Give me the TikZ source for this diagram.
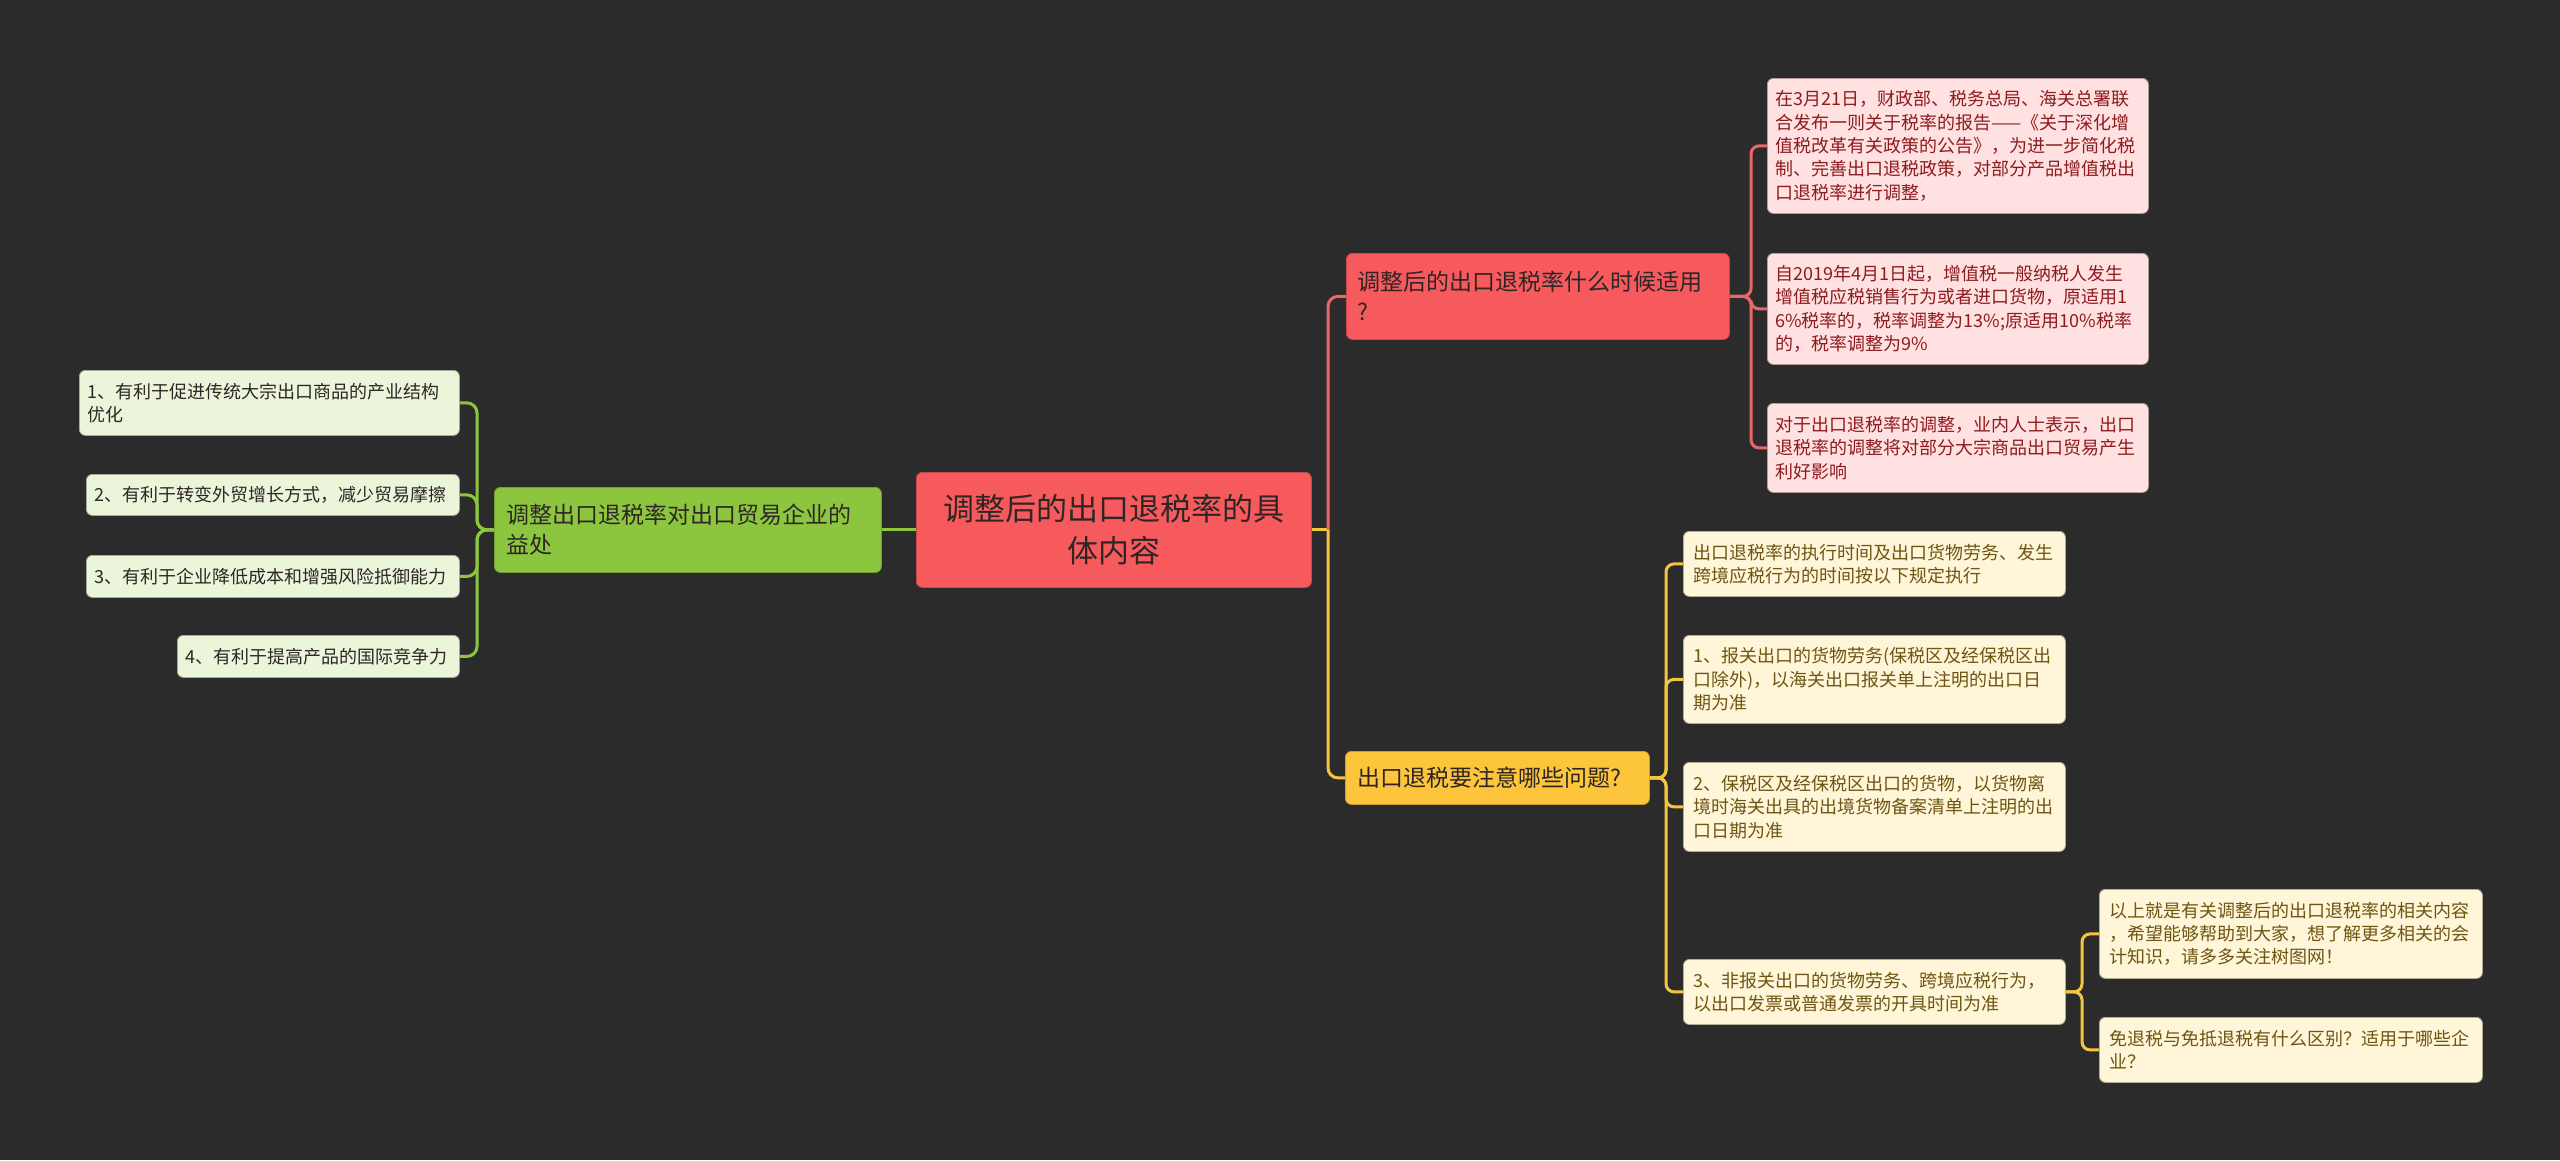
\documentclass[tikz,border=0pt]{standalone}
\usepackage{fontspec}
\setmainfont{Noto Sans CJK SC}
\definecolor{bg}{HTML}{2B2B2B}
\definecolor{redfill}{HTML}{F75A5D}
\definecolor{redline}{HTML}{E8686A}
\definecolor{pinkfill}{HTML}{FFE1E2}
\definecolor{pinktext}{HTML}{8E1B1D}
\definecolor{greenfill}{HTML}{8CC63E}
\definecolor{greenline}{HTML}{8CC63E}
\definecolor{palegreen}{HTML}{EAF5DA}
\definecolor{yellowfill}{HTML}{FCC53C}
\definecolor{yellowline}{HTML}{F4C63F}
\definecolor{paleyellow}{HTML}{FFF5D8}
\definecolor{yeltext}{HTML}{6E5512}
\definecolor{darktext}{HTML}{2E2626}
\tikzset{
  box/.style={rounded corners=6pt, inner ysep=0pt, anchor=north west, align=left},
  rootbox/.style={box, fill=redfill, draw=redfill!80!black, line width=0.8pt, text=darktext, align=center, inner xsep=10pt,
    font={\fontsize{31}{42}\selectfont}},
  mainbox/.style={box, line width=0.8pt, text=darktext, inner xsep=12pt, font={\fontsize{23}{30}\selectfont}},
  redbox/.style={mainbox, fill=redfill, draw=redfill!80!black},
  greenbox/.style={mainbox, fill=greenfill, draw=greenfill!80!black},
  yellowbox/.style={mainbox, fill=yellowfill, draw=yellowfill!80!black},
  leaf/.style={box, line width=0.8pt, inner xsep=8pt, font={\fontsize{18}{23.3}\selectfont}},
  pinkleaf/.style={leaf, fill=pinkfill, draw=pinkfill!70!black, text=pinktext},
  greenleaf/.style={leaf, fill=palegreen, draw=palegreen!70!black, text=darktext},
  yellowleaf/.style={leaf, fill=paleyellow, draw=paleyellow!70!black, text=yeltext, inner xsep=10pt},
  conn/.style={line width=3pt, rounded corners=10pt},
  rl/.style={conn, draw=redline},
  gl/.style={conn, draw=greenline},
  yl/.style={conn, draw=yellowline},
}
\begin{document}
\begin{tikzpicture}[x=1pt, y=-1pt]
\useasboundingbox (0,0) rectangle (2560,1160);
\fill[bg] (0,0) rectangle (2560,1160);

% spine coordinates
\coordinate (rsp) at (1328,0);
\coordinate (gsp) at (477,0);
\coordinate (rcs) at (1751,0);
\coordinate (ycs) at (1666,0);
\coordinate (ggs) at (2082,0);

% root
\node[rootbox, minimum height=115pt, text width=375pt] (root) at (916,472) {调整后的出口退税率的具\\体内容};

% green branch
\node[greenbox, minimum height=85pt, text width=363pt] (green) at (494,487) {调整出口退税率对出口贸易企业的\\益处};
\node[greenleaf, minimum height=65pt, text width=364pt] (gc1) at (79,370) {1、有利于促进传统大宗出口商品的产业结构\\优化};
\node[greenleaf, minimum height=41pt, text width=357pt] (gc2) at (86,474) {2、有利于转变外贸增长方式，减少贸易摩擦};
\node[greenleaf, minimum height=42pt, text width=357pt] (gc3) at (86,555) {3、有利于企业降低成本和增强风险抵御能力};
\node[greenleaf, minimum height=42pt, text width=266pt] (gc4) at (177,635) {4、有利于提高产品的国际竞争力};

% red branch
\node[redbox, minimum height=86pt, text width=361pt, inner xsep=11pt] (red) at (1346,253) {调整后的出口退税率什么时候适用\\?};
\node[pinkleaf, minimum height=135pt, text width=365pt] (rc1) at (1767,78) {在3月21日，财政部、税务总局、海关总署联\\合发布一则关于税率的报告——《关于深化增\\值税改革有关政策的公告》，为进一步简化税\\制、完善出口退税政策，对部分产品增值税出\\口退税率进行调整，};
\node[pinkleaf, minimum height=111pt, text width=365pt] (rc2) at (1767,253) {自2019年4月1日起，增值税一般纳税人发生\\增值税应税销售行为或者进口货物，原适用1\\6\%税率的，税率调整为13\%;原适用10\%税率\\的，税率调整为9\%};
\node[pinkleaf, minimum height=89pt, text width=365pt] (rc3) at (1767,403) {对于出口退税率的调整，业内人士表示，出口\\退税率的调整将对部分大宗商品出口贸易产生\\利好影响};

% yellow branch
\node[yellowbox, minimum height=53pt, text width=280pt] (yellow) at (1345,751) {出口退税要注意哪些问题?};
\node[yellowleaf, minimum height=65pt, text width=362pt] (yc1) at (1683,531) {出口退税率的执行时间及出口货物劳务、发生\\跨境应税行为的时间按以下规定执行};
\node[yellowleaf, minimum height=88pt, text width=362pt] (yc2) at (1683,635) {1、报关出口的货物劳务(保税区及经保税区出\\口除外)，以海关出口报关单上注明的出口日\\期为准};
\node[yellowleaf, minimum height=89pt, text width=362pt] (yc3) at (1683,762) {2、保税区及经保税区出口的货物，以货物离\\境时海关出具的出境货物备案清单上注明的出\\口日期为准};
\node[yellowleaf, minimum height=65pt, text width=362pt] (yc4) at (1683,959) {3、非报关出口的货物劳务、跨境应税行为，\\以出口发票或普通发票的开具时间为准};
\node[yellowleaf, minimum height=89pt, text width=363pt] (gg1) at (2099,889) {以上就是有关调整后的出口退税率的相关内容\\，希望能够帮助到大家，想了解更多相关的会\\计知识，请多多关注树图网！};
\node[yellowleaf, minimum height=65pt, text width=363pt] (gg2) at (2099,1017) {免退税与免抵退税有什么区别？适用于哪些企\\业？};

% connectors: root
\begin{scope}[on background layer/.style={}]
\end{scope}
\draw[gl] (root.west) -- (green.east);
\draw[yl, rounded corners=0pt] (root.east) -- (root.east -| rsp);
\draw[rl] (root.east -| rsp) |- (red.west);
\draw[yl] (root.east -| rsp) |- (yellow.west);

% green fan
\foreach \c in {gc1,gc2,gc3,gc4}
  \draw[gl] (green.west) -- (green.west -| gsp) |- (\c.east);

% red fan
\foreach \c in {rc1,rc2,rc3}
  \draw[rl, rounded corners=8pt] (red.east) -- (red.east -| rcs) |- (\c.west);

% yellow fan
\foreach \c in {yc1,yc2,yc3,yc4}
  \draw[yl, rounded corners=8pt] (yellow.east) -- (yellow.east -| ycs) |- (\c.west);

% grandchildren
\foreach \c in {gg1,gg2}
  \draw[yl, rounded corners=8pt] (yc4.east) -- (yc4.east -| ggs) |- (\c.west);
\end{tikzpicture}
\end{document}
